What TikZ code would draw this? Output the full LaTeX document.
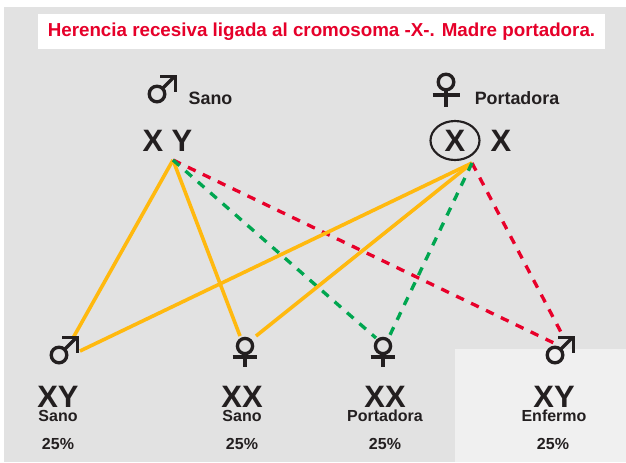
\documentclass[tikz,border=0pt]{standalone}
\usepackage{fontspec}
\setmainfont{Liberation Sans}
\definecolor{bggray}{HTML}{E2E2E2}
\definecolor{lightbox}{HTML}{F0F0F0}
\definecolor{titlered}{HTML}{E6002A}
\definecolor{ink}{HTML}{231F20}
\definecolor{lineyellow}{HTML}{FFB90F}
\definecolor{linegreen}{HTML}{00A650}
\definecolor{linered}{HTML}{E8002A}
\newcommand{\fsz}[1]{\fontsize{#1}{#1}\selectfont\bfseries}
\tikzset{
  x=0.75pt,y=-0.75pt,
  txt/.style={inner sep=0pt,outer sep=0pt,text=ink,anchor=center},
  big/.style={txt,font=\fsz{23.2pt}},
  small/.style={txt,font=\fsz{12pt}},
  toplabel/.style={txt,font=\fsz{13.4pt}},
  pct/.style={txt,font=\fsz{12pt}},
  sym/.style={draw=ink,line width=2.5pt},
  symh/.style={draw=ink,line width=3pt},
  yline/.style={draw=lineyellow,line width=2.7pt},
  gline/.style={draw=linegreen,line width=2.5pt,dash pattern=on 6.4pt off 6pt},
  rline/.style={draw=linered,line width=2.5pt,dash pattern=on 6.4pt off 6pt},
  pics/male/.style={code={
    \draw[sym] (0,0) circle (7.8);
    \draw[sym] (5.4,-5.4) -- (17.5,-17.5);
    \draw[sym,miter limit=10] (3,-17.5) -- (18.5,-17.5) -- (18.5,-2);
  }},
  pics/female/.style={code={
    \draw[sym] (0,0) circle (7.6);
    \draw[symh] (0,7.6) -- (0,21);
    \draw[symh] (-12.3,10.5) -- (12.3,10.5);
  }},
  pics/femaletop/.style={code={
    \draw[sym] (0,0) circle (7.8);
    \draw[symh] (0,7.8) -- (0,25);
    \draw[symh] (-13.5,13) -- (13.5,13);
  }},
}
\begin{document}
\begin{tikzpicture}
\useasboundingbox (0,0) rectangle (626,462);
\fill[white] (0,0) rectangle (626,462);
\fill[bggray] (4,7) rectangle (626,462);
\fill[lightbox] (455,349) rectangle (626,462);
\fill[white] (38,14) rectangle (605,49);
\node[inner sep=0pt,text=titlered,font=\fsz{14.08pt}] (title) at (321.5,32) {Herencia recesiva ligada al cromosoma -X-. Madre portadora.};
% anchor points of the connectors
\coordinate (pa) at (173,160);
\coordinate (ma) at (472,163);
\coordinate (c1a) at (73,338);
\coordinate (c1b) at (80,351);
\coordinate (c2a) at (240,336);
\coordinate (c2b) at (256,336);
\coordinate (c3a) at (376,338);
\coordinate (c3b) at (389,337);
\coordinate (c4a) at (556,344);
\coordinate (c4b) at (563,336);
\draw[yline] (pa) -- (c1a);
\draw[yline] (pa) -- (c2a);
\draw[rline] (pa) -- (c4a);
\draw[gline] (pa) -- (c3a);
\draw[yline] (ma) -- (c1b);
\draw[yline] (ma) -- (c2b);
\draw[rline] (ma) -- (c4b);
\draw[gline] (ma) -- (c3b);
% parents
\pic at (157,94) {male};
\node[toplabel] (fatherlabel) at (210.5,98) {Sano};
\node[big] (fatherx) at (153,140.5) {X};
\node[big] (fathery) at (182,140.5) {Y};
\pic at (446,82) {femaletop};
\node[toplabel] (motherlabel) at (517,98) {Portadora};
\node[big] (motherx) at (455,140.5) {X};
\node[big] (motherx2) at (501,140.5) {X};
\draw[draw=ink,line width=1.6pt] (motherx) ellipse (24.5 and 19.5);
% children
\pic at (59,355) {male};
\node[big] (c1g) at (58,397) {XY};
\node[small] (c1l) at (58,416) {Sano};
\node[pct] (c1p) at (58,443.5) {25\%};
\pic at (245,346) {female};
\node[big] (c2g) at (242,397) {XX};
\node[small] (c2l) at (242,416) {Sano};
\node[pct] (c2p) at (242,443.5) {25\%};
\pic at (383,346) {female};
\node[big] (c3g) at (385,397) {XX};
\node[small] (c3l) at (385,416) {Portadora};
\node[pct] (c3p) at (385,443.5) {25\%};
\pic at (555,355) {male};
\node[big] (c4g) at (554,397) {XY};
\node[small] (c4l) at (554,416) {Enfermo};
\node[pct] (c4p) at (553,443.5) {25\%};
\end{tikzpicture}
\end{document}
